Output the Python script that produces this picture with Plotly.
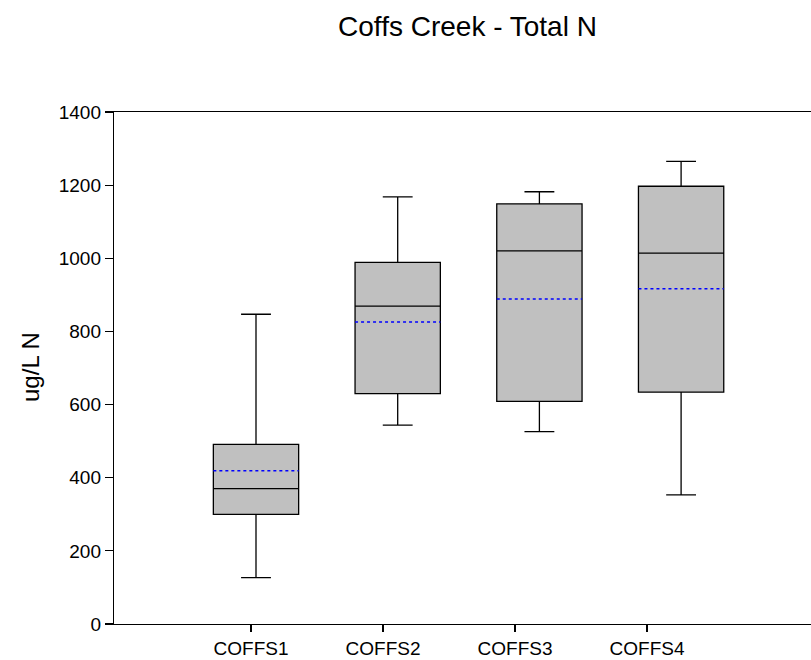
import plotly.graph_objects as go

sites = ["COFFS1", "COFFS2", "COFFS3", "COFFS4"]
lower_whisker = [127, 544, 526, 353]
q1 = [300, 630, 609, 634]
median = [370, 869, 1020, 1014]
q3 = [491, 989, 1149, 1197]
upper_whisker = [847, 1168, 1182, 1265]
mean = [419, 826, 889, 917]

FONT = "Liberation Sans, Arial, sans-serif"
BOX_W = 0.602
positions = [i + 1 for i in range(len(sites))]

W, H = 811, 660
L, T = 114, 111.7
PH = 512.6
PW = W - L

fig = go.Figure()
fig.add_trace(go.Box(
    x=positions, q1=q1, median=median, q3=q3,
    lowerfence=lower_whisker, upperfence=upper_whisker,
    width=BOX_W, whiskerwidth=0.35, boxpoints=False,
    fillcolor="#c0c0c0", line=dict(color="black", width=1.3),
    xaxis="x", yaxis="y", showlegend=False, hoverinfo="skip",
))

mx, my = [], []
for p, m in zip(positions, mean):
    mx += [p - BOX_W / 2, p + BOX_W / 2, None]
    my += [m, m, None]
fig.add_trace(go.Scatter(
    x=mx, y=my, mode="lines",
    line=dict(color="#0000ff", width=1.5, dash="dot"),
    xaxis="x", yaxis="y", showlegend=False, hoverinfo="skip",
))

fig.add_trace(go.Scatter(x=[1], y=[0], xaxis="x2", yaxis="y", mode="markers",
                         marker=dict(opacity=0), showlegend=False, hoverinfo="skip"))

fig.update_layout(
    width=W, height=H,
    margin=dict(l=L, r=0, t=T, b=H - T - PH, pad=0, autoexpand=False),
    paper_bgcolor="white", plot_bgcolor="white",
    font=dict(family=FONT, color="black", size=19),
    hovermode=False,
    title=dict(text="Coffs Creek - Total N", x=467.5 / W, xanchor="center",
               xref="container", y=1 - 26 / H, yref="container", yanchor="middle",
               font=dict(size=28, family=FONT, color="black")),
    xaxis=dict(range=[1 - (256 - L) / 141.7, 1 - (256 - L) / 141.7 + PW / 141.7],
               side="top", anchor="y", showline=True,
               linecolor="black", linewidth=1.2, ticks="", showticklabels=False,
               showgrid=False, zeroline=False),
    xaxis2=dict(range=[1 - (251 - L) / 132, 1 - (251 - L) / 132 + PW / 132],
                overlaying="x", side="bottom", anchor="y",
                tickvals=positions, ticktext=sites, ticks="outside", ticklen=7,
                tickcolor="black", tickwidth=1.2, showline=True, linecolor="black",
                linewidth=1.2, showgrid=False, zeroline=False,
                tickfont=dict(size=19, family=FONT, color="black")),
    yaxis=dict(range=[0, 1400], dtick=200, ticks="outside", ticklen=8,
               tickcolor="black", tickwidth=1.2, showline=True, linecolor="black",
               linewidth=1.2, showgrid=False, zeroline=False,
               tickfont=dict(size=19, family=FONT, color="black")),
    annotations=[dict(text="ug/L N", textangle=-90, xref="paper", yref="paper",
                      x=(31 - L) / PW, y=0.502, showarrow=False,
                      xanchor="center", yanchor="middle",
                      font=dict(size=24, family=FONT, color="black"))],
)

fig.write_html(
    "out.html",
    config={"displayModeBar": False, "staticPlot": True},
    post_script="document.body.style.margin='0';document.body.style.overflow='hidden';",
)
